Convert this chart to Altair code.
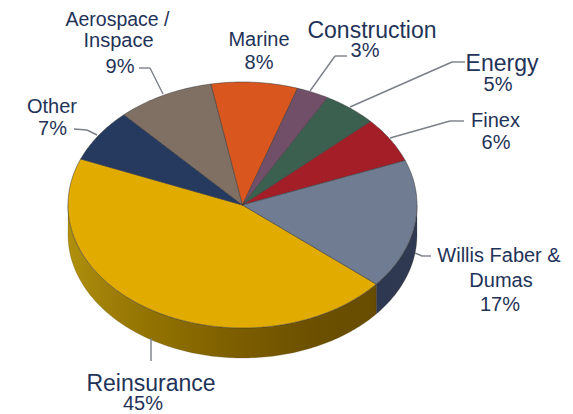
import math
import altair as alt
import pandas as pd

# Data
categories = ["Reinsurance", "Other", "Aerospace / Inspace", "Marine", "Construction", "Energy", "Finex", "Willis Faber & Dumas"]
shares = [45, 7, 9, 8, 3, 5, 6, 17]
colours = ["#e2ab00", "#263a60", "#807063", "#d9561e", "#724f68", "#3c6050", "#a41e28", "#6f7c92"]

# Text: (text, centre x, baseline y, font size), page pixels
label_text = ["Aerospace /", "Inspace", "9%", "Other", "7%", "Marine", "8%", "Construction", "3%",
              "Energy", "5%", "Finex", "6%", "Willis Faber &", "Dumas", "17%", "Reinsurance", "45%"]
label_x = [117.5, 118.5, 120, 52, 52.5, 259, 259, 372, 365, 502, 498, 495.5, 496, 499, 501, 500, 151, 143]
label_y = [25.5, 47, 73, 113, 135, 46, 69, 38, 57, 71, 91, 127, 149, 262, 287, 311, 391, 409.5]
label_size = [19.5, 20, 20, 20, 20, 20, 20, 23, 20, 23, 20, 20, 20, 20, 20, 20, 23, 20]

# Leader lines, page pixels
leaders = [
    [(74, 129), (87, 130), (97, 135)],
    [(139, 68), (150, 68), (163, 94)],
    [(347, 56), (335, 56), (310, 91)],
    [(465, 62), (452, 62), (350, 107)],
    [(464, 121), (450, 121), (390, 138)],
    [(151, 338), (151, 361)],
    [(431, 256), (422, 256), (415, 253)],
]

W, H = 557, 406
CX, CY, RX, RY, DEPTH = 234.5, 197, 174.5, 123, 30
START = 40  # degrees clockwise from east at which Reinsurance starts

x_scale = alt.Scale(domain=[-CX / RX, (W - CX) / RX], range=[0, W], nice=False, zero=False)
y_scale = alt.Scale(domain=[(CY - H) / RY, CY / RY], range=[H, 0], nice=False, zero=False)


def arc(a, b):
    n = max(2, int(abs(b - a)))
    return [(math.cos(math.radians(a + (b - a) * i / n)),
              -math.sin(math.radians(a + (b - a) * i / n))) for i in range(n + 1)]


def poly_layer(points, fill, stroke, sw, sop=1.0):
    df = pd.DataFrame({"px": [p[0] for p in points], "py": [p[1] for p in points], "i": range(len(points))})
    return alt.Chart(df).mark_line(interpolate="linear-closed", fill=fill, stroke=stroke,
                                   strokeWidth=sw, strokeOpacity=sop, clip=False).encode(
        x=alt.X("px:Q", axis=None, scale=x_scale),
        y=alt.Y("py:Q", axis=None, scale=y_scale),
        order="i:Q",
    )


def grad(stops):
    return alt.Gradient(gradient="linear", x1=0, x2=1, y1=0, y2=0,
                        stops=[alt.GradientStop(offset=o, color=c) for o, c in stops])


def rim(a, b, fill):
    top = arc(a, b)
    d = DEPTH / RY
    bottom = [(x, y - d) for x, y in reversed(top)]
    return poly_layer(top + bottom, fill, "#4a3a10", 0.4, 0.5)


layers = []

# Side wall: only slices facing the viewer
ang = START
edges = []
for s in shares:
    edges.append((ang, ang + s * 3.6))
    ang += s * 3.6

layers.append(rim(edges[0][0], 180, grad([(0, "#b0900c"), (0.12, "#a08008"), (0.3, "#8f7000"),
                                          (0.55, "#7c5d00"), (0.8, "#6c5000"), (1, "#684c00")])))
layers.append(rim(0, START, grad([(0, "#684c00"), (0.01, "#2e3850"), (1, "#2f3a52")])))

# Top faces
for (a, b), c in zip(edges, colours):
    layers.append(poly_layer([(0.0, 0.0)] + arc(a, b), c, "#3a3a3a", 0.7, 0.75))

# Leaders
for pts in leaders:
    for (x0, y0), (x1, y1) in zip(pts[:-1], pts[1:]):
        layers.append(alt.Chart(pd.DataFrame({"a": [0]})).mark_rule(color="#7a7f88", strokeWidth=1.4).encode(
            x=alt.value(x0 - 8), x2=alt.value(x1 - 8), y=alt.value(y0 - 8), y2=alt.value(y1 - 8)))

# Labels
for t, x, y, s in zip(label_text, label_x, label_y, label_size):
    layers.append(alt.Chart(pd.DataFrame({"t": [t]})).mark_text(
        font="Liberation Sans", fontSize=s, color="#1f3358", align="center", baseline="alphabetic").encode(
        x=alt.value(x - 8), y=alt.value(y - 8), text="t:N"))

chart = alt.layer(*layers).properties(
    width=W, height=H, padding=0, background="white",
    autosize=alt.AutoSizeParams(type="none"),
).configure_view(stroke=None)

chart.save("out.html", embed_options={"renderer": "svg", "actions": False})
